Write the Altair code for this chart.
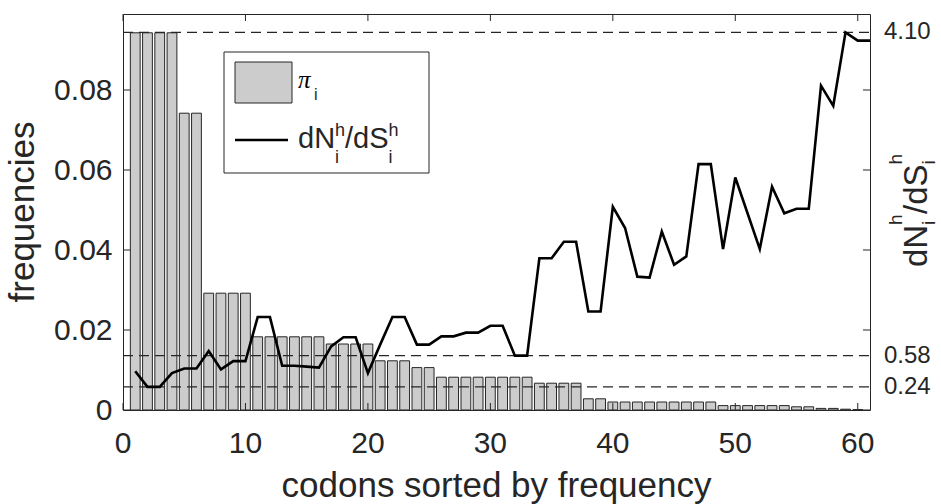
import altair as alt
import pandas as pd

# codon frequencies (bars) for codons 1..60, sorted by frequency
codon_bar = list(range(1, 61))
pi_freq = [
    0.0943, 0.0943, 0.0943, 0.0943, 0.0742, 0.0742, 0.0292, 0.0292, 0.0292, 0.0292,
    0.0183, 0.0183, 0.0183, 0.0183, 0.0183, 0.0183, 0.0165, 0.0165, 0.0165, 0.0165,
    0.0123, 0.0123, 0.0123, 0.0106, 0.0106, 0.0082, 0.0082, 0.0082, 0.0082, 0.0082,
    0.0082, 0.0082, 0.0082, 0.0067, 0.0067, 0.0067, 0.0067, 0.0028, 0.0028, 0.0020,
    0.0020, 0.0020, 0.0020, 0.0020, 0.0020, 0.0020, 0.0020, 0.0020, 0.0011, 0.0011,
    0.0011, 0.0011, 0.0011, 0.0011, 0.0008, 0.0008, 0.0004, 0.0004, 0.0002, 0.0001,
]

# per-codon dN/dS ratio (line) for codons 1..61
codon_line = list(range(1, 62))
dnds = [
    0.41, 0.24, 0.24, 0.39, 0.44, 0.44, 0.63, 0.43, 0.52, 0.52,
    1.00, 1.00, 0.47, 0.47, 0.46, 0.45, 0.68, 0.78, 0.78, 0.39,
    0.70, 1.00, 1.00, 0.70, 0.70, 0.79, 0.79, 0.83, 0.83, 0.905,
    0.905, 0.58, 0.58, 1.64, 1.64, 1.82, 1.82, 1.06, 1.06, 2.20,
    1.97, 1.44, 1.43, 1.93, 1.57, 1.66, 2.665, 2.665, 1.74, 2.52,
    2.13, 1.74, 2.42, 2.13, 2.18, 2.18, 3.52, 3.30, 4.10, 4.01,
    4.01,
]

# reference levels of the ratio, marked with dashed lines
ref_levels = [0.24, 0.58, 4.10]
ref_labels = ["0.24", "0.58", "4.10"]

# axis ticks and their labels
x_ticks = [0, 10, 20, 30, 40, 50, 60]
x_labels = ["0", "10", "20", "30", "40", "50", "60"]
freq_ticks = [0, 0.02, 0.04, 0.06, 0.08]
freq_labels = ["0", "0.02", "0.04", "0.06", "0.08"]

W, H = 747, 396
INK = "#262626"
FONT = "Liberation Sans"

xs = alt.Scale(domain=[0, 61], nice=False, zero=False)
ys_freq = alt.Scale(domain=[0, 0.099], nice=False, zero=False)
ys_ratio = alt.Scale(domain=[-0.012, 4.30], nice=False, zero=False)

one = pd.DataFrame({"k": [0]})


def txt(s, x, y, size, angle=0, font=FONT, style="normal", align="left"):
    return alt.Chart(one).mark_text(
        text=s, align=align, baseline="alphabetic", font=font, fontSize=size,
        fontStyle=style, color=INK if font == FONT else "#000000", angle=angle,
    ).encode(x=alt.value(x), y=alt.value(y))


# ---- frequency bars, frame ticks and tick labels (left scale) ----
bars = alt.Chart(pd.DataFrame({"codon": codon_bar, "pi": pi_freq})).transform_calculate(
    x0="datum.codon - 0.4", x1="datum.codon + 0.4"
).mark_bar(fill="#cccccc", stroke=INK, strokeWidth=1).encode(
    x=alt.X("x0:Q", scale=xs, axis=None),
    x2="x1:Q",
    y=alt.Y("pi:Q", scale=ys_freq, axis=None),
    y2=alt.datum(0),
)

xt = pd.DataFrame({"t": x_ticks, "lab": x_labels})
yt = pd.DataFrame({"t": freq_ticks, "lab": freq_labels})
tick_bottom = alt.Chart(xt).mark_rule(color=INK, strokeWidth=1).encode(
    x=alt.X("t:Q", scale=xs, axis=None), y=alt.value(H), y2=alt.value(H - 7))
tick_top = alt.Chart(xt).mark_rule(color=INK, strokeWidth=1).encode(
    x=alt.X("t:Q", scale=xs, axis=None), y=alt.value(0), y2=alt.value(7))
tick_left = alt.Chart(yt).mark_rule(color=INK, strokeWidth=1).encode(
    y=alt.Y("t:Q", scale=ys_freq, axis=None), x=alt.value(0), x2=alt.value(7))
tick_right = alt.Chart(yt).mark_rule(color=INK, strokeWidth=1).encode(
    y=alt.Y("t:Q", scale=ys_freq, axis=None), x=alt.value(W), x2=alt.value(W - 7))

x_tick_text = alt.Chart(xt).mark_text(
    align="center", baseline="alphabetic", font=FONT, fontSize=30, color=INK
).encode(x=alt.X("t:Q", scale=xs, axis=None), y=alt.value(H + 42.5), text="lab:N")
y_tick_text = alt.Chart(yt).mark_text(
    align="right", baseline="middle", font=FONT, fontSize=30, color=INK, dy=1
).encode(y=alt.Y("t:Q", scale=ys_freq, axis=None), x=alt.value(-10.5), text="lab:N")

left_group = alt.layer(
    bars, tick_bottom, tick_top, tick_left, tick_right, x_tick_text, y_tick_text
)

# ---- dN/dS line with reference levels (right scale) ----
ref_df = pd.DataFrame({"level": ref_levels, "label": ref_labels})
ref_lines = alt.Chart(ref_df).mark_rule(color=INK, strokeWidth=1.1, strokeDash=[10, 6]).encode(
    y=alt.Y("level:Q", scale=ys_ratio, axis=None), x=alt.value(0), x2=alt.value(W))
ref_text = alt.Chart(ref_df).mark_text(
    align="left", baseline="middle", font=FONT, fontSize=24, color=INK
).encode(y=alt.Y("level:Q", scale=ys_ratio, axis=None), x=alt.value(W + 14), text="label:N")

ratio_line = alt.Chart(pd.DataFrame({"codon": codon_line, "r": dnds})).mark_line(
    color="#000000", strokeWidth=2.6, strokeJoin="miter"
).encode(
    x=alt.X("codon:Q", scale=xs, axis=None),
    y=alt.Y("r:Q", scale=ys_ratio, axis=None),
)

right_group = alt.layer(ref_lines, ratio_line, ref_text)

# ---- axis titles ----
titles = alt.layer(
    txt("codons sorted by frequency", W / 2, 483, 35, align="center"),
    txt("frequencies", -89, H / 2, 35, angle=270, align="center"),
    # right title: dN_i^h / dS_i^h, rotated
    txt("dN", 804, 253, 33, angle=270),
    txt("h", 779, 211, 19, angle=270),
    txt("i", 812, 211, 19, angle=270),
    txt("/dS", 804, 200, 33, angle=270),
    txt("h", 779, 150.5, 19, angle=270),
    txt("i", 812, 150.5, 19, angle=270),
)

# ---- legend ----
legend_box = alt.Chart(one).mark_rect(fill="white", stroke=INK, strokeWidth=1).encode(
    x=alt.value(101), x2=alt.value(306), y=alt.value(38), y2=alt.value(159))
legend_swatch = alt.Chart(one).mark_rect(fill="#cccccc", stroke=INK, strokeWidth=1).encode(
    x=alt.value(112), x2=alt.value(169), y=alt.value(48), y2=alt.value(89))
legend_line = alt.Chart(one).mark_rule(color="#000000", strokeWidth=2.6).encode(
    x=alt.value(112), x2=alt.value(165), y=alt.value(126))
legend = alt.layer(
    legend_box, legend_swatch, legend_line,
    txt("\u03c0", 175, 74, 25, font="Liberation Serif", style="italic"),
    txt("i", 191, 86, 16),
    txt("dN", 175, 134, 29),
    txt("h", 212, 122, 18),
    txt("i", 212, 149, 18),
    txt("/dS", 222, 134, 29),
    txt("h", 265.5, 122, 18),
    txt("i", 265.5, 149, 18),
)

chart = alt.layer(left_group, right_group, titles, legend).resolve_scale(
    y="independent"
).properties(
    width=W, height=H, autosize="none",
    padding={"left": 123, "top": 14, "right": 71, "bottom": 94},
    background="white",
).configure_view(stroke=INK, strokeWidth=1)

chart.save("out.html", embed_options={"renderer": "svg", "actions": False})
